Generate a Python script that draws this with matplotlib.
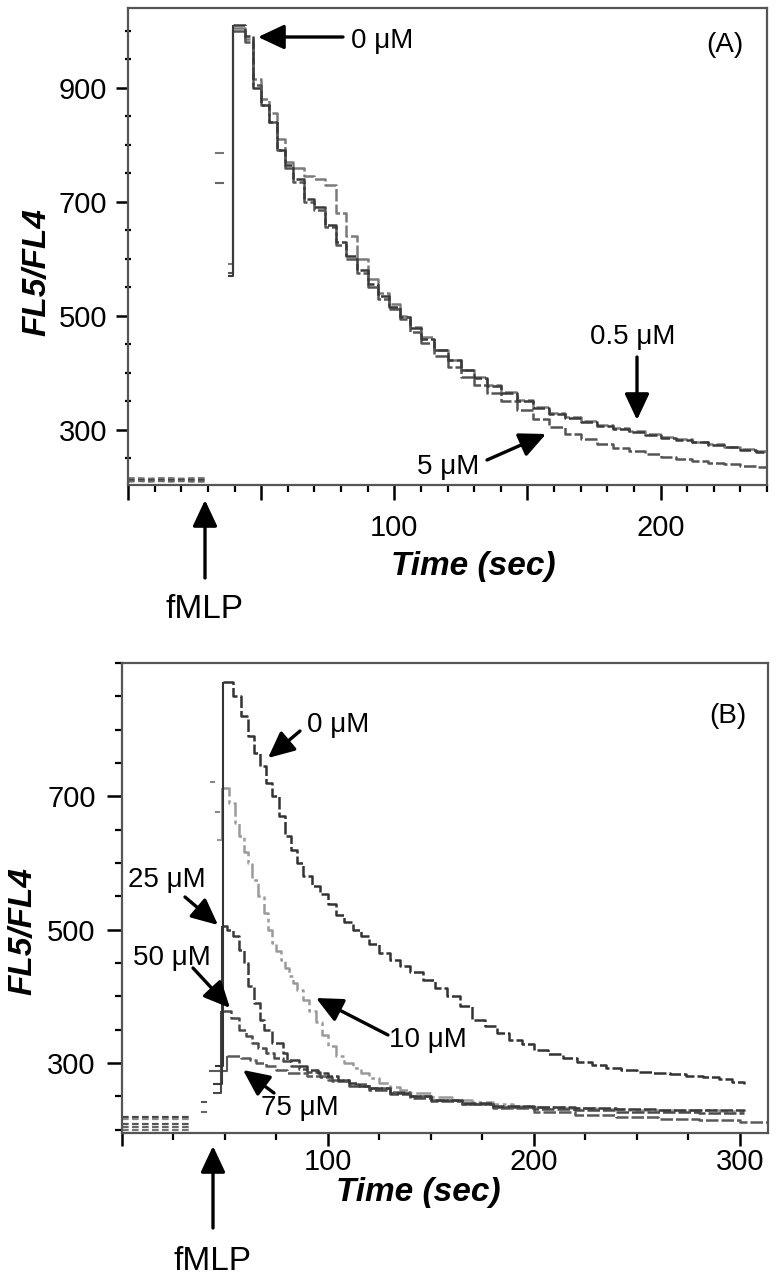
import numpy as np
import matplotlib
matplotlib.use('Agg')
import matplotlib.pyplot as plt
from matplotlib.ticker import MultipleLocator, FixedLocator, FixedFormatter
from matplotlib.patches import FancyArrowPatch

plt.rcParams['font.family'] = ['Liberation Sans', 'DejaVu Sans']
nan = np.nan

# ---------------- Panel A data ----------------
A_base_t = [0, 4, 8, 12, 16, 20, 24, 29]
A_base_0 = [212, 212, 212, 212, 212, 212, 212, 212]
A_base_05 = [215, 215, 214, 215, 215, 214, 215, 215]
A_base_5 = [209, 210, 209, 210, 209, 210, 209, 209]

A_mark_t = [33, 35.5]
A_mark_05 = [785, 785]
A_mark_5 = [733, 733]

A_t = [37.5, 39.5, 44, 47, 50, 53, 56, 59, 62, 66,
       70, 74, 78, 82, 86, 90, 94, 98, 102, 106,
       110, 115, 120, 125, 130, 135, 140, 146, 152, 158,
       164, 170, 176, 182, 188, 194, 200, 206, 212, 218,
       224, 230, 236, 240]
A_0 = [570, 1010, 990, 900, 870, 840, 790, 765, 740, 705,
       690, 660, 630, 605, 580, 555, 535, 515, 497, 478,
       460, 440, 422, 405, 390, 376, 364, 350, 338, 328,
       320, 313, 307, 301, 296, 291, 286, 282, 278, 274,
       269, 265, 261, 258]
A_05 = [590, 1005, 985, 915, 880, 855, 810, 770, 760, 745,
        740, 730, 680, 640, 600, 565, 540, 520, 500, 480,
        462, 440, 422, 405, 392, 378, 366, 352, 340, 330,
        322, 316, 309, 303, 297, 292, 287, 283, 279, 275,
        270, 266, 262, 260]
A_5 = [575, 1000, 980, 905, 870, 840, 790, 760, 735, 700,
       685, 655, 625, 600, 575, 550, 530, 512, 494, 472,
       452, 430, 410, 392, 378, 364, 350, 334, 318, 305,
       293, 283, 275, 268, 262, 257, 252, 248, 245, 242,
       239, 236, 234, 232]

# ---------------- Panel B data ----------------
B_base_t = [0, 4, 8, 12, 16, 20, 24, 28, 34]
B_base_0 = [219] * 9
B_base_10 = [216] * 9
B_base_25 = [208] * 9
B_base_50 = [204] * 9
B_base_75 = [200] * 9

B10_pre_t = [43, 44.5, 44.6, 45.5, 47]
B10_pre_v = [722, 722, nan, 677, 677]
B_mark_t = [39, 41]
B_mark_50 = [242, 242]
B_mark_75 = [226, 226]

B0_t = [45, 49, 54, 58, 61, 64, 67, 70, 73, 76,
        79, 82, 85, 88, 92, 96, 100, 104, 108, 112,
        116, 120, 125, 130, 135, 140, 146, 152, 158, 164,
        170, 176, 182, 188, 194, 200, 207, 214, 221, 228,
        235, 242, 250, 258, 266, 274, 282, 290, 296, 302]
B0_v = [295, 871, 850, 820, 790, 765, 745, 720, 700, 670,
        640, 620, 600, 580, 565, 553, 538, 522, 512, 500,
        490, 478, 465, 455, 445, 437, 425, 412, 400, 385,
        365, 355, 345, 335, 328, 320, 313, 307, 302, 297,
        293, 290, 287, 285, 283, 281, 279, 276, 272, 268]

B10_t = [46, 48.5, 52, 55, 57, 59, 61, 63, 66, 69,
         71, 73, 75, 77, 79, 81, 83, 85, 88, 91,
         94, 97, 100, 104, 108, 112, 116, 120, 125, 130,
         135, 140, 150, 160, 170, 180, 190, 200, 215, 230,
         245, 260, 275, 290, 302]
B10_v = [635, 713, 690, 660, 640, 616, 600, 575, 550, 525,
         500, 480, 468, 455, 442, 430, 420, 410, 395, 378,
         362, 342, 325, 310, 300, 292, 285, 278, 270, 264,
         259, 255, 249, 245, 241, 238, 236, 234, 232, 231,
         230, 229, 229, 228, 228]

B25_t = [44, 48.5, 51, 54, 57, 59, 61, 64, 67, 69,
         73, 78, 80, 86, 90, 95, 100, 105, 110, 115,
         120, 130, 140, 150, 165, 180, 200, 220, 240, 260,
         280, 302]
B25_v = [268, 505, 500, 490, 470, 450, 415, 390, 365, 350,
         330, 315, 305, 296, 290, 285, 280, 275, 270, 266,
         262, 255, 250, 245, 240, 236, 234, 232, 231, 230,
         229, 228]

B50_t = [44, 48, 53, 57, 60, 63, 66, 70, 74, 78,
         82, 86, 90, 96, 102, 110, 120, 130, 140, 150,
         165, 180, 200, 220, 240, 260, 280, 302]
B50_v = [255, 378, 368, 350, 340, 330, 322, 315, 308, 303,
         296, 291, 286, 279, 273, 266, 259, 253, 248, 243,
         238, 234, 231, 229, 227, 226, 225, 225]

B75_t = [42, 51, 58, 62, 65, 70, 75, 80, 90, 100,
         110, 120, 130, 140, 150, 165, 180, 200, 220, 240,
         260, 280, 300, 313]
B75_v = [288, 310, 308, 305, 300, 295, 290, 285, 280, 275,
         268, 262, 256, 250, 245, 238, 232, 226, 222, 219,
         216, 214, 212, 211]

# ---------------- Figure ----------------
W, H = 777, 1284
fig = plt.figure(figsize=(W / 100, H / 100), dpi=100)


def fx(x, y):
    return (x / W, 1 - y / H)


def box(l, t, r, b):
    return [l / W, 1 - b / H, (r - l) / W, (b - t) / H]


axA = fig.add_axes(box(128, 8, 767, 485))
axB = fig.add_axes(box(122, 663, 768, 1133))

DASH = (0, (5, 1.2))


def curve(ax, t, v, color, lw=1.8, ls=DASH):
    ax.plot(t[:2], v[:2], color=color, lw=1.5, drawstyle='steps-post', solid_capstyle='butt')
    ax.plot(t[1:], v[1:], color=color, lw=lw, ls=ls, drawstyle='steps-post')


# Panel A
for bv, c in [(A_base_05, '#777777'), (A_base_0, '#444444'), (A_base_5, '#666666')]:
    axA.plot(A_base_t, bv, color=c, lw=1.6, ls=(0, (3, 1.5)))
axA.plot(A_mark_t, A_mark_05, color='#777777', lw=1.5)
axA.plot(A_mark_t, A_mark_5, color='#666666', lw=1.5)
curve(axA, A_t, A_05, '#7a7a7a')
curve(axA, A_t, A_5, '#555555')
curve(axA, A_t, A_0, '#3a3a3a')

# Panel B
for bv, c in [(B_base_0, '#444444'), (B_base_10, '#888888'), (B_base_25, '#555555'),
              (B_base_50, '#666666'), (B_base_75, '#777777')]:
    axB.plot(B_base_t, bv, color=c, lw=1.6, ls=(0, (3, 1.5)))
axB.plot(B10_pre_t, B10_pre_v, color='#888888', lw=1.5)
axB.plot(B_mark_t, B_mark_50, color='#555555', lw=1.5)
axB.plot(B_mark_t, B_mark_75, color='#666666', lw=1.5)
curve(axB, B10_t, B10_v, '#9a9a9a', ls=(0, (6, 1.5, 1.5, 1.5)))
curve(axB, B75_t, B75_v, '#5a5a5a')
curve(axB, B50_t, B50_v, '#4a4a4a')
curve(axB, B25_t, B25_v, '#3a3a3a')
curve(axB, B0_t, B0_v, '#333333')

# Axes styling
for ax in (axA, axB):
    for s in ax.spines.values():
        s.set_linewidth(1.6)
        s.set_color('#555555')
    ax.tick_params(labelsize=21, colors='black', width=1.8)

axA.set_xlim(0, 240)
axA.set_ylim(203, 1040)
axA.xaxis.set_major_locator(FixedLocator([0, 50, 100, 150, 200]))
axA.xaxis.set_major_formatter(FixedFormatter(['', '', '100', '', '200']))
axA.xaxis.set_minor_locator(MultipleLocator(10))
axA.yaxis.set_major_locator(FixedLocator([300, 500, 700, 900]))
axA.yaxis.set_minor_locator(MultipleLocator(50))
axA.tick_params(axis='x', which='major', direction='out', length=11, pad=10)
axA.tick_params(axis='x', which='minor', direction='out', length=5, width=1.6)
axA.tick_params(axis='y', which='major', direction='out', length=9, pad=6)
axA.tick_params(axis='y', which='minor', direction='inout', length=5, width=1.6)

axB.set_xlim(0, 313.6)
axB.set_ylim(195, 900)
axB.xaxis.set_major_locator(FixedLocator([0, 100, 200, 300]))
axB.xaxis.set_major_formatter(FixedFormatter(['', '100', '200', '300']))
axB.xaxis.set_minor_locator(MultipleLocator(25))
axB.yaxis.set_major_locator(FixedLocator([300, 500, 700]))
axB.yaxis.set_minor_locator(MultipleLocator(50))
axB.tick_params(axis='x', which='major', direction='out', length=9, pad=2)
axB.tick_params(axis='x', which='minor', direction='out', length=5, width=1.6)
axB.tick_params(axis='y', which='major', direction='out', length=11, pad=8)
axB.tick_params(axis='y', which='minor', direction='out', length=5, width=1.6)

# Axis titles
TKW = dict(fontsize=24, fontweight='bold', fontstyle='italic')
fig.text(*fx(37, 272), 'FL5/FL4', rotation=90, ha='center', va='center', **TKW)
fig.text(*fx(23, 931), 'FL5/FL4', rotation=90, ha='center', va='center', **TKW)
fig.text(*fx(473, 566), 'Time (sec)', ha='center', va='center', **TKW)
fig.text(*fx(418, 1193), 'Time (sec)', ha='center', va='center', **TKW)


# Labels
def label(x, y, s, size=20, ha='center'):
    fig.text(*fx(x, y), s, ha=ha, va='center', fontsize=size)


def arrow(x0, y0, x1, y1):
    fig.add_artist(FancyArrowPatch(fx(x0, y0), fx(x1, y1), transform=fig.transFigure,
                                   arrowstyle='-|>,head_length=1.6,head_width=0.75',
                                   mutation_scale=10, lw=2.4, color='black',
                                   shrinkA=0, shrinkB=0))


label(725, 45, '(A)')
label(382, 41, '0 \u03bcM')
arrow(343, 37, 258, 37)
label(633, 337, '0.5 \u03bcM')
arrow(637, 357, 637, 420)
label(448, 467, '5 \u03bcM')
arrow(487, 460, 546, 434)
label(205, 610, 'fMLP', size=24)
arrow(205, 578, 205, 500)

label(728, 716, '(B)')
label(338, 725, '0 \u03bcM')
arrow(300, 731, 268, 758)
label(167, 880, '25 \u03bcM')
arrow(185, 897, 218, 925)
label(172, 958, '50 \u03bcM')
arrow(193, 968, 230, 1008)
label(428, 1040, '10 \u03bcM')
arrow(388, 1035, 316, 998)
label(300, 1108, '75 \u03bcM')
arrow(274, 1093, 243, 1070)
label(213, 1262, 'fMLP', size=24)
arrow(213, 1228, 213, 1146)

fig.savefig('out.png', dpi=100)
